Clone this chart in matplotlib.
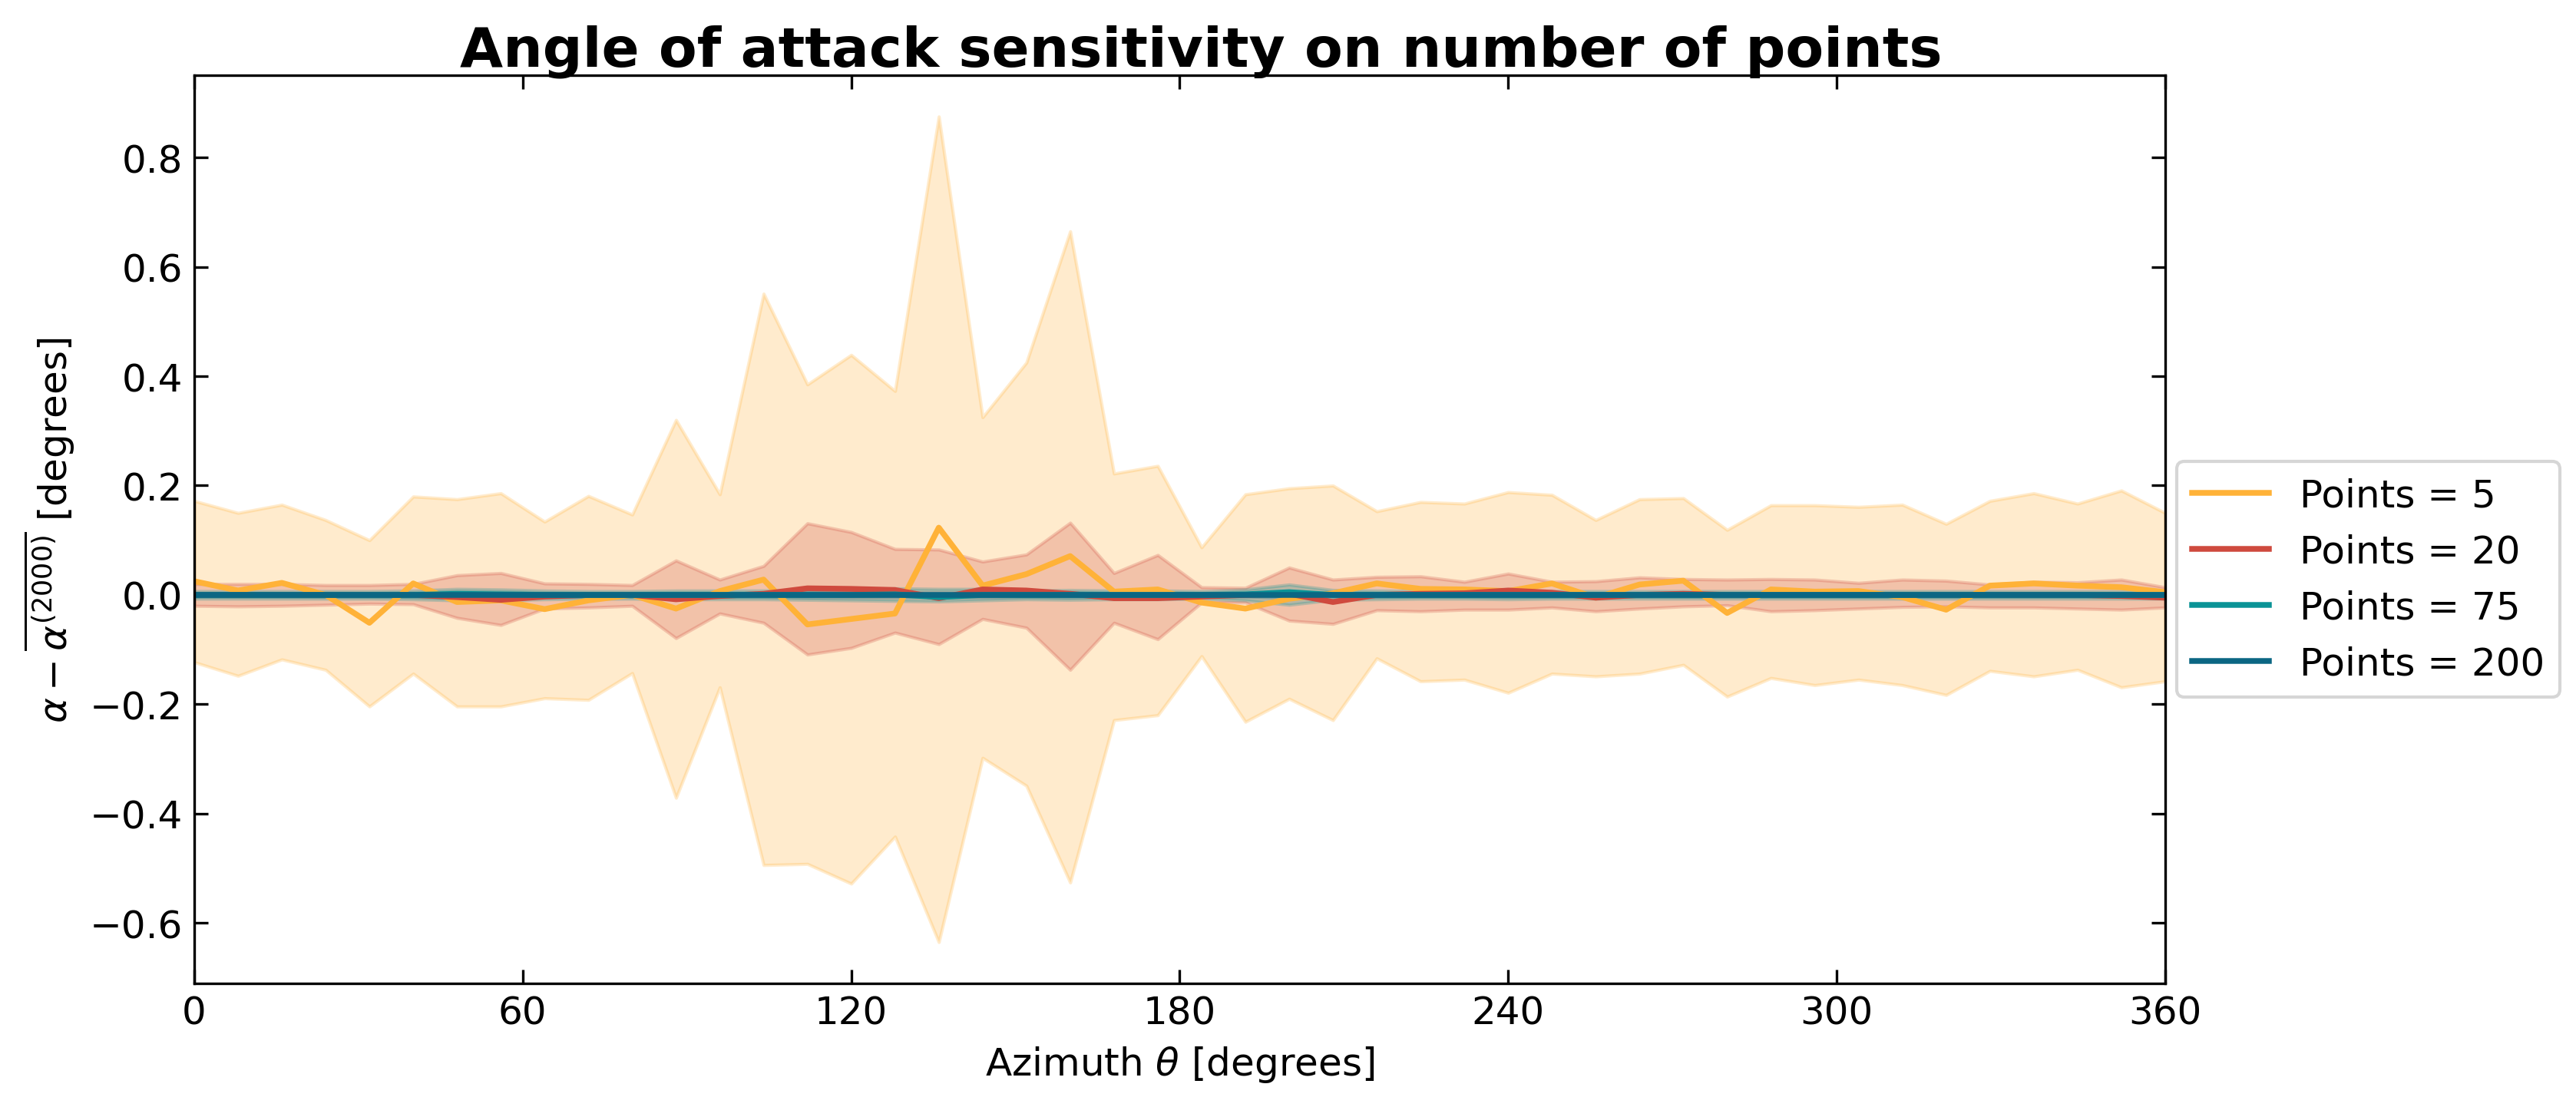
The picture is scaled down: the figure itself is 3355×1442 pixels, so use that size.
import matplotlib
matplotlib.use("Agg")
import matplotlib.pyplot as plt
import numpy as np

azimuth = [0, 8, 16, 24, 32, 40, 48, 56, 64, 72, 80, 88, 96, 104, 112, 120, 128, 136,
           144, 152, 160, 168, 176, 184, 192, 200, 208, 216, 224, 232, 240, 248, 256,
           264, 272, 280, 288, 296, 304, 312, 320, 328, 336, 344, 352, 360]

labels = ["Points = 5", "Points = 20", "Points = 75", "Points = 200"]
colors = ["#FFB238", "#CF4A3E", "#0A9396", "#0B6683"]

mean_5 = [0.025, 0.008, 0.022, 0.000, -0.051, 0.021, -0.013, -0.010, -0.026, -0.010,
          0.000, -0.025, 0.007, 0.028, -0.054, -0.044, -0.034, 0.123, 0.017, 0.038,
          0.071, 0.006, 0.010, -0.014, -0.025, -0.007, 0.003, 0.021, 0.011, 0.010,
          0.007, 0.021, -0.005, 0.019, 0.026, -0.033, 0.010, 0.006, 0.007, -0.004,
          -0.027, 0.017, 0.021, 0.017, 0.014, 0.005]
upper_5 = [0.172, 0.150, 0.165, 0.137, 0.100, 0.180, 0.175, 0.186, 0.134, 0.181,
           0.147, 0.320, 0.184, 0.551, 0.385, 0.439, 0.373, 0.875, 0.325, 0.425,
           0.665, 0.222, 0.236, 0.087, 0.184, 0.195, 0.200, 0.153, 0.170, 0.167,
           0.188, 0.183, 0.137, 0.175, 0.177, 0.119, 0.164, 0.164, 0.161, 0.165,
           0.130, 0.172, 0.186, 0.167, 0.191, 0.150]
lower_5 = [-0.123, -0.148, -0.118, -0.137, -0.204, -0.144, -0.204, -0.204, -0.189, -0.192,
           -0.143, -0.371, -0.169, -0.494, -0.492, -0.528, -0.442, -0.635, -0.298, -0.349,
           -0.526, -0.229, -0.220, -0.112, -0.232, -0.190, -0.229, -0.116, -0.158, -0.155,
           -0.179, -0.144, -0.149, -0.144, -0.128, -0.186, -0.152, -0.165, -0.155, -0.165,
           -0.183, -0.139, -0.149, -0.137, -0.169, -0.158]

mean_20 = [0.000, 0.000, 0.000, 0.000, 0.000, 0.000, -0.004, -0.009, -0.003, 0.000,
           0.000, -0.008, -0.002, 0.002, 0.012, 0.011, 0.009, -0.006, 0.010, 0.008,
           0.002, -0.006, -0.006, -0.003, 0.000, 0.002, -0.013, 0.000, 0.002, 0.003,
           0.008, 0.004, -0.005, 0.000, 0.002, 0.000, 0.000, 0.000, 0.000, 0.000,
           0.000, 0.000, 0.000, 0.000, -0.002, -0.005]
upper_20 = [0.020, 0.020, 0.020, 0.018, 0.018, 0.020, 0.036, 0.040, 0.021, 0.020,
            0.018, 0.063, 0.028, 0.053, 0.131, 0.115, 0.084, 0.083, 0.061, 0.074,
            0.132, 0.040, 0.073, 0.014, 0.013, 0.050, 0.028, 0.033, 0.034, 0.024,
            0.039, 0.024, 0.025, 0.032, 0.029, 0.028, 0.029, 0.028, 0.022, 0.028,
            0.026, 0.019, 0.024, 0.023, 0.028, 0.014]
lower_20 = [-0.020, -0.021, -0.020, -0.018, -0.016, -0.017, -0.042, -0.055, -0.025, -0.023,
            -0.020, -0.079, -0.034, -0.051, -0.109, -0.097, -0.069, -0.090, -0.044, -0.060,
            -0.137, -0.051, -0.081, -0.014, -0.014, -0.047, -0.053, -0.028, -0.030, -0.027,
            -0.027, -0.023, -0.030, -0.025, -0.021, -0.019, -0.030, -0.028, -0.025, -0.022,
            -0.021, -0.023, -0.023, -0.025, -0.027, -0.023]

mean_75 = [0.000, 0.000, 0.000, 0.000, 0.000, 0.000, 0.002, 0.001, 0.000, 0.000,
           0.000, 0.000, 0.000, 0.000, 0.000, 0.000, 0.001, -0.004, 0.000, 0.000,
           0.000, 0.000, 0.000, 0.000, 0.001, 0.005, 0.000, 0.000, 0.000, 0.000,
           0.000, 0.000, 0.000, 0.000, 0.000, 0.000, 0.000, 0.000, 0.000, 0.000,
           0.000, 0.000, 0.000, 0.000, 0.000, 0.000]
upper_75 = [0.007, 0.007, 0.007, 0.007, 0.007, 0.008, 0.011, 0.010, 0.008, 0.007,
            0.007, 0.008, 0.008, 0.008, 0.009, 0.010, 0.012, 0.011, 0.011, 0.008,
            0.009, 0.008, 0.008, 0.007, 0.010, 0.019, 0.009, 0.008, 0.007, 0.007,
            0.008, 0.007, 0.007, 0.007, 0.007, 0.007, 0.007, 0.007, 0.007, 0.007,
            0.007, 0.007, 0.007, 0.007, 0.007, 0.007]
lower_75 = [-0.007, -0.007, -0.007, -0.007, -0.007, -0.008, -0.010, -0.010, -0.008, -0.007,
            -0.007, -0.008, -0.008, -0.008, -0.009, -0.010, -0.011, -0.012, -0.010, -0.008,
            -0.009, -0.008, -0.008, -0.007, -0.010, -0.018, -0.009, -0.008, -0.007, -0.007,
            -0.008, -0.007, -0.007, -0.007, -0.007, -0.007, -0.007, -0.007, -0.007, -0.007,
            -0.007, -0.007, -0.007, -0.007, -0.007, -0.007]

mean_200 = [0.000, 0.000, 0.000, 0.000, 0.000, 0.000, 0.000, 0.000, 0.000, 0.000,
            0.000, 0.000, 0.000, 0.000, 0.000, 0.000, 0.000, 0.000, 0.000, 0.000,
            0.000, 0.000, 0.000, 0.000, 0.000, 0.000, 0.000, 0.000, 0.000, 0.000,
            0.000, 0.000, 0.000, 0.000, 0.000, 0.000, 0.000, 0.000, 0.000, 0.000,
            0.000, 0.000, 0.000, 0.000, 0.000, 0.000]
upper_200 = [0.003, 0.003, 0.003, 0.003, 0.003, 0.003, 0.004, 0.004, 0.003, 0.003,
             0.003, 0.003, 0.003, 0.003, 0.004, 0.004, 0.004, 0.004, 0.004, 0.003,
             0.004, 0.003, 0.003, 0.003, 0.003, 0.005, 0.003, 0.003, 0.003, 0.003,
             0.003, 0.003, 0.003, 0.003, 0.003, 0.003, 0.003, 0.003, 0.003, 0.003,
             0.003, 0.003, 0.003, 0.003, 0.003, 0.003]
lower_200 = [-0.003, -0.003, -0.003, -0.003, -0.003, -0.003, -0.004, -0.004, -0.003, -0.003,
             -0.003, -0.003, -0.003, -0.003, -0.004, -0.004, -0.004, -0.004, -0.004, -0.003,
             -0.004, -0.003, -0.003, -0.003, -0.003, -0.005, -0.003, -0.003, -0.003, -0.003,
             -0.003, -0.003, -0.003, -0.003, -0.003, -0.003, -0.003, -0.003, -0.003, -0.003,
             -0.003, -0.003, -0.003, -0.003, -0.003, -0.003]

means = [mean_5, mean_20, mean_75, mean_200]
uppers = [upper_5, upper_20, upper_75, upper_200]
lowers = [lower_5, lower_20, lower_75, lower_200]

plt.rcParams['font.family'] = ['DejaVu Sans']
fig = plt.figure(figsize=(3355 / 300, 1443 / 300), dpi=300)
ax = fig.add_axes([0.0754, 0.1116, 0.8405 - 0.0754, 0.9314 - 0.1116])

x = np.array(azimuth)
for lo, hi, c in zip(lowers, uppers, colors):
    ax.fill_between(x, lo, hi, color=c, alpha=0.25, linewidth=1.0)
for m, c, lab in zip(means, colors, labels):
    ax.plot(x, m, color=c, linewidth=1.8, label=lab)

ax.set_xlim(0, 360)
ax.set_xticks([0, 60, 120, 180, 240, 300, 360])
ax.tick_params(direction='in', top=True, right=True, length=4.3, labelsize=12)
ax.set_xlabel(r'Azimuth $\theta$ [degrees]', fontsize=12)
ax.set_ylabel(r'$\alpha - \overline{\alpha^{(2000)}}$ [degrees]', fontsize=12)
ax.set_title('Angle of attack sensitivity on number of points', fontsize=17.4,
             fontweight='bold', pad=3, x=0.511)
ax.legend(loc='center left', bbox_to_anchor=(1.0, 0.445), fontsize=12,
          borderaxespad=0.3)

fig.savefig('out.png', dpi=300)
